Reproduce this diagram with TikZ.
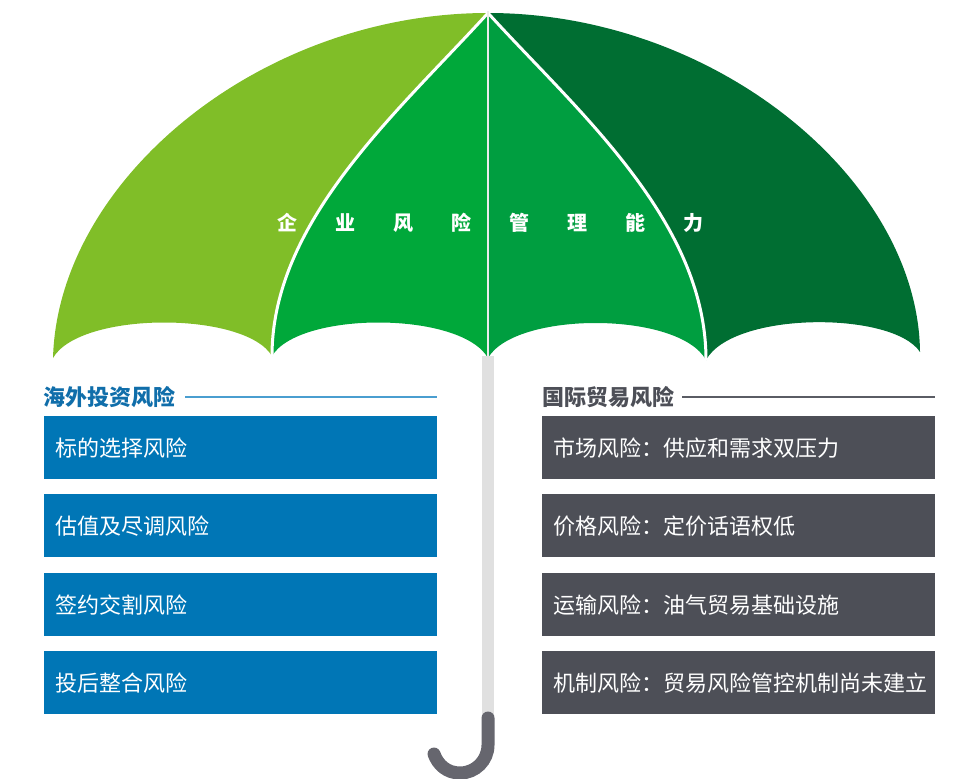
\documentclass[tikz,border=0pt]{standalone}
\usepackage{fontspec}
\setmainfont{Noto Sans CJK SC}
\usepackage{tikz}

\definecolor{umbA}{RGB}{128,190,40}
\definecolor{umbB}{RGB}{0,168,58}
\definecolor{umbC}{RGB}{0,158,64}
\definecolor{umbD}{RGB}{0,110,50}
\definecolor{invblue}{RGB}{0,118,182}
\definecolor{invhead}{RGB}{16,110,170}
\definecolor{invline}{RGB}{74,158,208}
\definecolor{tradegray}{RGB}{77,79,87}
\definecolor{tradeline}{RGB}{90,92,100}
\definecolor{handlegray}{RGB}{102,102,110}
\definecolor{shaftgray}{RGB}{224,224,224}

\begin{document}
\begin{tikzpicture}[x=1pt,y=-1pt,
  risk box/.style={anchor=north west,minimum width=393pt,minimum height=63pt,
    text width=371pt,inner xsep=11pt,align=left,text=white,
    font=\fontsize{22}{26}\selectfont},
  inv box/.style={risk box,fill=invblue},
  trade box/.style={risk box,fill=tradegray},
  head node/.style={anchor=west,inner sep=0pt,font=\fontsize{22}{26}\selectfont\bfseries},
  rib/.style={white,line width=3pt}]

  \useasboundingbox (0,0) rectangle (973,778);

  % canopy
  \fill[umbA] (53,358) .. controls (58,180) and (260,13) .. (488,13)
    .. controls (400,110) and (272,220) .. (272,356)
    .. controls (245,311) and (80,311) .. (53,358) -- cycle;
  \fill[umbB] (488,13) .. controls (400,110) and (272,220) .. (272,356)
    .. controls (299,311) and (461,311) .. (488,358) -- cycle;
  \fill[umbC] (488,13) -- (488,358)
    .. controls (515,311) and (679,311) .. (706,360)
    .. controls (706,220) and (576,110) .. (488,13) -- cycle;
  \fill[umbD] (488,13) .. controls (716,13) and (918,180) .. (920,352)
    .. controls (893,311) and (733,311) .. (706,360)
    .. controls (706,220) and (576,110) .. (488,13) -- cycle;
  \draw[rib] (488,13) .. controls (400,110) and (272,220) .. (272,356);
  \draw[rib] (488,13) .. controls (576,110) and (706,220) .. (706,360);
  \draw[shaftgray!60!white,line width=2pt] (488,11) -- (488,358);

  % shaft and handle
  \draw[shaftgray,line width=12pt] (488,356) -- (488,720);
  \draw[handlegray,line width=13pt,line cap=round] (488,718) -- (488,745)
    .. controls (488,760.5) and (475.5,773) .. (460,773)
    .. controls (447,773) and (438,765) .. (434,754);

  \node[text=white,font=\fontsize{20}{24}\selectfont\bfseries] (title) at (490,223)
    {企\hspace{38pt}业\hspace{38pt}风\hspace{38pt}险\hspace{38pt}管\hspace{38pt}理\hspace{38pt}能\hspace{38pt}力};

  % left column
  \node[head node,text=invhead] (invhead) at (43,397) {海外投资风险};
  \coordinate (invend) at (437,397);
  \draw[invline,line width=1.5pt] ([xshift=10pt]invhead.east) -- (invend);
  \node[inv box] (inv1) at (44,416) {标的选择风险};
  \node[inv box] (inv2) at (44,494) {估值及尽调风险};
  \node[inv box] (inv3) at (44,573) {签约交割风险};
  \node[inv box] (inv4) at (44,651) {投后整合风险};

  % right column
  \node[head node,text=tradegray] (tradehead) at (542,397) {国际贸易风险};
  \coordinate (tradeend) at (935,397);
  \draw[tradeline,line width=1.2pt] ([xshift=8pt]tradehead.east) -- (tradeend);
  \node[trade box] (trade1) at (542,416) {市场风险：供应和需求双压力};
  \node[trade box] (trade2) at (542,494) {价格风险：定价话语权低};
  \node[trade box] (trade3) at (542,573) {运输风险：油气贸易基础设施};
  \node[trade box] (trade4) at (542,651) {机制风险：贸易风险管控机制尚未建立};
\end{tikzpicture}
\end{document}
